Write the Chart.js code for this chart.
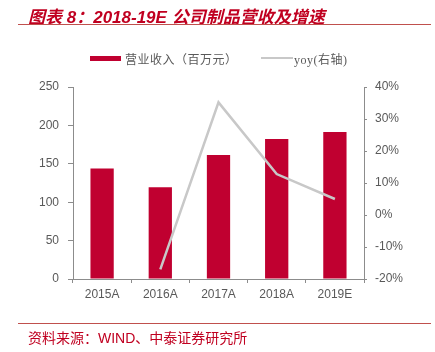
<!DOCTYPE html>
<html><head><meta charset="utf-8">
<script src="https://cdn.jsdelivr.net/npm/chart.js@4"></script>
<style>
html,body{margin:0;padding:0;background:#fff;}
#wrap{position:relative;width:435px;height:352px;overflow:hidden;}
canvas{position:absolute;left:0;top:0;}
.t{position:absolute;white-space:nowrap;}
#title{left:28px;top:3px;font:italic bold 17px "Liberation Sans","Noto Sans CJK SC",sans-serif;color:#C00020;}
#tline{position:absolute;left:18px;top:24px;width:413px;height:1px;background:#C0504D;}
#fline{position:absolute;left:18px;top:323px;width:413px;height:1px;background:#C0504D;}
#foot{left:28px;top:327px;font:14px "Liberation Sans","Noto Sans CJK SC",sans-serif;color:#C00020;}
.lg{position:absolute;top:50px;font:12px "Noto Sans CJK SC","Liberation Serif",serif;color:#595959;letter-spacing:0.5px;}
</style></head><body>
<div id="wrap">
<canvas id="c" width="435" height="352"></canvas>
<div class="t" id="title">图表 8：2018-19E 公司制品营收及增速</div>
<div id="tline"></div>
<div id="fline"></div>
<div class="t" id="foot">资料来源：WIND、中泰证券研究所</div>
<div style="position:absolute;left:90px;top:56px;width:31px;height:5px;background:#C00030"></div>
<div class="t lg" style="left:125px">营业收入（百万元）</div>
<div style="position:absolute;left:261px;top:57px;width:32px;height:2px;background:#C8C8C8"></div>
<div class="t lg" style="left:294px;font-family:'Liberation Serif','Noto Sans CJK SC',serif">yoy(右轴)</div>
</div>
<script>
const categories = ["2015A","2016A","2017A","2018A","2019E"];
const revenue = [144, 119.5, 161.5, 182.3, 191.5];
const yoy = [null, -17, 35.2, 12.8, 5];
const leftTicks = [0, 50, 100, 150, 200, 250];
const rightTicks = [-20, -10, 0, 10, 20, 30, 40];

const tickFont = {family: "'Liberation Sans', Arial, sans-serif", size: 12};
const gray = "#595959";
const axisColor = "#8C8C8C";

new Chart(document.getElementById('c'), {
  data: {
    labels: categories,
    datasets: [
      {type: 'line', label: 'yoy(右轴)', data: yoy, yAxisID: 'y1', borderColor: '#C8C8C8', borderWidth: 2.5,
       pointRadius: 0, tension: 0, spanGaps: false, order: 0},
      {type: 'bar', label: '营业收入（百万元）', data: revenue, yAxisID: 'y', backgroundColor: '#C00030',
       categoryPercentage: 0.8, barPercentage: 0.5, order: 1}
    ]
  },
  options: {
    responsive: false, animation: false,
    layout: {padding: {top: 87, left: 0, right: 0, bottom: 0}},
    plugins: {legend: {display: false}, tooltip: {enabled: false}},
    scales: {
      x: {
        grid: {display: true, drawOnChartArea: false, offset: true, color: axisColor, tickLength: 4, tickColor: axisColor},
        border: {color: axisColor, width: 1},
        ticks: {color: gray, font: tickFont, padding: 4},
        afterFit: s => { s.height = 352 - 279 - 0; }
      },
      y: {
        position: 'left', min: 0, max: 250,
        afterBuildTicks: s => { s.ticks = leftTicks.map(v => ({value: v})); },
        grid: {drawOnChartArea: false, color: axisColor, tickLength: 5},
        border: {color: axisColor, width: 1},
        ticks: {color: gray, font: tickFont, padding: 9},
        afterFit: s => { s.width = 73; }
      },
      y1: {
        position: 'right', min: -20, max: 40,
        afterBuildTicks: s => { s.ticks = rightTicks.map(v => ({value: v})); },
        grid: {drawOnChartArea: false, color: axisColor, tickLength: 3},
        border: {color: axisColor, width: 1},
        ticks: {color: gray, font: tickFont, padding: 8, callback: v => v + '%'},
        afterFit: s => { s.width = 435 - 364; }
      }
    }
  }
});
</script>
</body></html>
